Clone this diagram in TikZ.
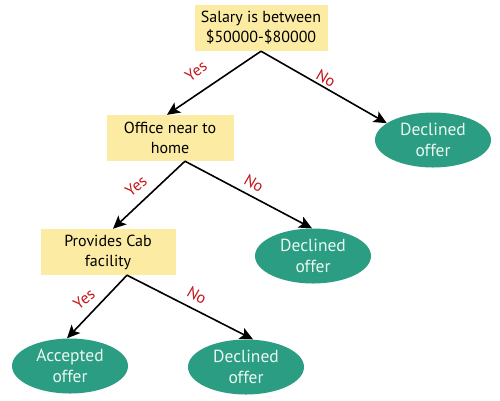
\documentclass[tikz,border=0pt]{standalone}
\usepackage{fontspec}
\setmainfont{PT Sans}
\usetikzlibrary{arrows.meta,shapes.geometric}
\definecolor{boxfill}{HTML}{FCEBA3}
\definecolor{ellfill}{HTML}{2A9D82}
\definecolor{elltext}{HTML}{EAF7F2}
\definecolor{lblred}{HTML}{C4161C}
\tikzset{
  decbox/.style={fill=boxfill, draw=none, minimum height=46pt, align=center, inner sep=2pt, font=\fontsize{16}{20}\selectfont},
  leaf/.style={ellipse, fill=ellfill, draw=none, minimum width=116pt, minimum height=55pt, align=center, inner sep=0pt, text=elltext, font=\fontsize{17.5}{21}\selectfont},
  conn/.style={line width=1.6pt, -{Stealth[length=13pt,width=12pt,inset=3pt]}},
  lbl/.style={text=lblred, font=\fontsize{16}{16}\selectfont, inner sep=0pt}
}
\begin{document}
\begin{tikzpicture}[x=1pt,y=-1pt]
\useasboundingbox (0,0) rectangle (500,400);
\node[decbox, minimum width=133pt] (b1) at (261,28) {Salary is between\\\$50000-\$80000};
\node[decbox, minimum width=127pt] (b2) at (170,138) {Office near to\\home};
\node[decbox, minimum width=135pt] (b3) at (108,252) {Provides Cab\\facility};
\node[leaf] (e1) at (433,140) {Declined\\offer};
\node[leaf] (e2) at (313,256) {Declined\\offer};
\node[leaf] (e3) at (70,366) {Accepted\\offer};
\node[leaf] (e4) at (246,367) {Declined\\offer};
\coordinate (s1) at (b1.south);
\coordinate (s2) at ([xshift=15pt]b2.south);
\coordinate (s3) at ([xshift=19pt]b3.south);
\draw[conn] (s1) -- ([xshift=-3pt]b2.north);
\draw[conn] (s1) -- (e1.160);
\draw[conn] (s2) -- ([xshift=5pt]b3.north);
\draw[conn] (s2) -- ([xshift=-1pt]e2.north);
\draw[conn] (s3) -- ([xshift=-3pt]e3.north);
\draw[conn] (s3) -- ([xshift=7pt]e4.north);
\node[lbl, rotate=36] (y1) at (196,71) {Yes};
\node[lbl, rotate=-30] (n1) at (326,78) {No};
\node[lbl, rotate=38] (y2) at (136,186) {Yes};
\node[lbl, rotate=-30] (n2) at (254,183) {No};
\node[lbl, rotate=38] (y3) at (84,299) {Yes};
\node[lbl, rotate=-30] (n3) at (197,295) {No};
\end{tikzpicture}
\end{document}
